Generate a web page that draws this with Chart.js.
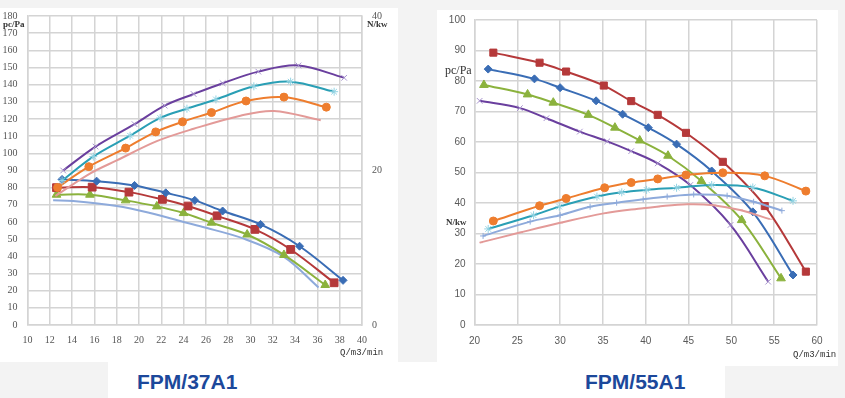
<!DOCTYPE html>
<html>
<head>
<meta charset="utf-8">
<script src="https://cdn.jsdelivr.net/npm/chart.js@4.4.1/dist/chart.umd.min.js"></script>
<style>
body { margin:0; width:845px; height:398px; background:#f3f3f3; position:relative; overflow:hidden; }
.box { position:absolute; background:#fff; }
.wrap { position:absolute; }
.lbl { position:absolute; color:#333; white-space:nowrap; line-height:1; }
.title { position:absolute; font-family:"Liberation Sans", Arial, sans-serif; font-weight:bold; font-size:21px; color:#1c489b; line-height:1; }
</style>
</head>
<body>
<div class="box" style="left:0;top:8px;width:398px;height:354px"></div>
<div class="box" style="left:437px;top:10px;width:401px;height:356px"></div>
<div class="box" style="left:108px;top:362px;width:617px;height:36px"></div>

<div class="wrap" style="left:0;top:0;width:400px;height:365px"><canvas id="chart37"></canvas></div>
<div class="wrap" style="left:420px;top:0;width:425px;height:365px"><canvas id="chart55"></canvas></div>

<div class="lbl" style="left:3px;top:19px;font:bold 9px 'Liberation Serif', serif;">pc/Pa</div>
<div class="lbl" style="left:367px;top:19px;font:bold 9px 'Liberation Serif', serif;">N/kw</div>
<div class="lbl" style="left:340px;top:348px;font:9px 'Liberation Mono', monospace;">Q/m3/min</div>
<div class="lbl" style="left:445px;top:63px;font:12px 'Liberation Serif', serif;">pc/Pa</div>
<div class="lbl" style="left:446px;top:217px;font:bold 9px 'Liberation Serif', serif;">N/kw</div>
<div class="lbl" style="left:793px;top:350px;font:9px 'Liberation Mono', monospace;">Q/m3/min</div>

<div class="title" style="left:137px;top:371px;">FPM/37A1</div>
<div class="title" style="left:585px;top:371px;">FPM/55A1</div>

<script>
// FPM/37A1 - pressure curves (pc/Pa, left axis)
const q37Blue = [13.1, 16.2, 19.6, 22.4, 25.0, 27.5, 30.9, 34.4, 38.3];
const p37Blue = [84.8, 83.8, 81.3, 77.0, 72.6, 66.4, 58.6, 45.9, 26.0];
const q37Red = [12.6, 15.8, 19.1, 22.1, 24.4, 27.0, 30.4, 33.6, 37.5];
const p37Red = [80.0, 80.3, 77.4, 73.2, 69.3, 63.6, 55.7, 44.0, 24.6];
const q37Green = [12.6, 15.6, 18.8, 21.6, 24.0, 26.5, 29.7, 33.0, 36.7];
const p37Green = [75.9, 75.9, 72.6, 69.1, 65.2, 59.6, 52.7, 40.8, 23.3];
const q37LightBlue = [12.3, 14.1, 18.0, 21.0, 24.0, 25.5, 29.4, 33.0, 36.1];
const p37LightBlue = [72.6, 72.2, 69.3, 65.2, 60.0, 57.5, 50.3, 39.7, 21.9];
// FPM/37A1 - power curves (N/kw, right axis)
const q37Purple = [13.2, 16.1, 19.6, 22.3, 24.9, 27.5, 30.7, 34.3, 38.4];
const n37Purple = [20.0, 23.1, 26.0, 28.4, 29.9, 31.3, 32.8, 33.6, 32.0];
const q37Teal = [13.1, 15.9, 19.2, 21.9, 24.3, 26.9, 30.3, 33.6, 37.5];
const n37Teal = [18.7, 21.8, 24.5, 26.8, 28.0, 29.2, 30.9, 31.5, 30.2];
const q37Orange = [12.7, 15.5, 18.8, 21.5, 23.9, 26.5, 29.6, 33.0, 36.8];
const n37Orange = [17.8, 20.5, 22.9, 25.0, 26.3, 27.5, 29.0, 29.5, 28.2];
const q37Pink = [12.5, 15.6, 18.0, 21.6, 24.9, 29.1, 32.1, 36.3];
const n37Pink = [16.7, 19.6, 21.3, 23.8, 25.4, 27.1, 27.7, 26.5];

// FPM/55A1 - pressure curves
const q55Red = [22.2, 27.6, 30.7, 35.1, 38.3, 41.4, 44.7, 49.0, 53.9, 58.7];
const p55Red = [89.3, 86.0, 83.1, 78.5, 73.4, 68.9, 63.0, 53.5, 39.0, 17.5];
const q55Blue = [21.6, 27.0, 30.0, 34.2, 37.3, 40.3, 43.6, 47.7, 52.5, 57.2];
const p55Blue = [83.9, 80.7, 77.8, 73.5, 69.1, 64.7, 59.3, 50.5, 37.1, 16.4];
const q55Green = [21.1, 26.2, 29.2, 33.3, 36.4, 39.3, 42.6, 46.5, 51.2, 55.8];
const p55Green = [78.7, 75.6, 72.9, 68.9, 64.7, 60.5, 55.5, 47.2, 34.4, 15.3];
const q55Purple = [20.6, 25.3, 28.4, 32.3, 35.5, 38.3, 41.4, 45.2, 49.9, 54.3];
const p55Purple = [73.5, 71.1, 67.8, 63.4, 60.2, 57.0, 53.0, 45.9, 32.8, 14.2];
// FPM/55A1 - power curves
const q55Orange = [22.2, 27.6, 30.7, 35.2, 38.3, 41.4, 44.7, 49.0, 53.9, 58.7];
const n55Orange = [34.1, 39.1, 41.5, 45.0, 46.7, 47.9, 49.2, 49.9, 48.9, 43.9];
const q55Teal = [21.6, 26.9, 29.9, 34.3, 37.2, 40.1, 43.6, 47.7, 52.5, 57.2];
const n55Teal = [31.5, 36.0, 38.8, 42.1, 43.5, 44.3, 45.0, 45.9, 45.1, 40.7];
const q55LightBlue = [21.0, 26.5, 30.0, 33.5, 36.6, 39.7, 42.5, 45.6, 49.5, 52.6, 55.9];
const n55LightBlue = [29.2, 33.9, 36.0, 38.8, 40.1, 41.2, 42.1, 42.8, 42.4, 40.4, 37.5];
const q55Pink = [20.6, 25.3, 30.0, 35.1, 39.7, 41.3, 44.8, 47.9, 51.0, 54.5];
const n55Pink = [27.0, 30.3, 33.5, 36.6, 38.3, 38.8, 39.6, 39.3, 37.7, 34.7];

const BLUE = '#3a6db5', RED = '#b5393a', GREEN = '#8bb23d', PURPLE = '#6a3f9e';
const TEAL = '#2a9fb5', ORANGE = '#ee7d2e', LIGHTBLUE = '#8eaadb', PINK = '#e39a98';
const GRID = '#d4d4d4';

function pts(xs, ys) {
    return xs.map((x, i) => ({ x: x, y: ys[i] }));
}

function line(xs, ys, color, style, radius, markColor, axis) {
    return {
        data: pts(xs, ys),
        yAxisID: axis || 'y',
        borderColor: color,
        backgroundColor: color,
        borderWidth: 2,
        pointStyle: style,
        pointRadius: radius,
        pointBackgroundColor: markColor || color,
        pointBorderColor: markColor || color,
        pointBorderWidth: 1,
        fill: false,
        tension: 0.35
    };
}

function fixWidth(w) { return function (scale) { scale.width = w; }; }
function fixHeight(h) { return function (scale) { scale.height = h; }; }

Chart.defaults.animation = false;

new Chart(document.getElementById('chart37'), {
    type: 'line',
    data: {
        datasets: [
            line(q37Purple, n37Purple, PURPLE, 'crossRot', 4, '#a996cf', 'y1'),
            line(q37Teal, n37Teal, TEAL, 'star', 4, '#93d3e3', 'y1'),
            line(q37Orange, n37Orange, ORANGE, 'circle', 4, ORANGE, 'y1'),
            line(q37Pink, n37Pink, PINK, 'dash', 0, PINK, 'y1'),
            line(q37Blue, p37Blue, BLUE, 'rectRot', 4),
            line(q37Red, p37Red, RED, 'rect', 5.5),
            line(q37Green, p37Green, GREEN, 'triangle', 5),
            line(q37LightBlue, p37LightBlue, LIGHTBLUE, 'cross', 0)
        ]
    },
    options: {
        responsive: true,
        maintainAspectRatio: false,
        layout: { padding: { top: 15 } },
        plugins: { legend: { display: false }, tooltip: { enabled: false } },
        scales: {
            x: {
                type: 'linear', min: 10, max: 40,
                ticks: { stepSize: 2, padding: 9, color: '#555', font: { family: 'Liberation Serif', size: 10 } },
                grid: { color: GRID, lineWidth: 1.5, drawTicks: false },
                border: { color: GRID, width: 1.5 },
                afterFit: fixHeight(40)
            },
            y: {
                min: 0, max: 180,
                ticks: { stepSize: 10, padding: 10, color: '#555', font: { family: 'Liberation Serif', size: 10 } },
                grid: { color: GRID, lineWidth: 1.5, drawTicks: false },
                border: { color: GRID, width: 1.5 },
                afterFit: fixWidth(27.5)
            },
            y1: {
                position: 'right', min: 0, max: 40,
                ticks: { stepSize: 20, padding: 10, color: '#555', font: { family: 'Liberation Serif', size: 10 } },
                grid: { display: false, drawTicks: false },
                border: { color: GRID, width: 1.5 },
                afterFit: fixWidth(38)
            }
        }
    }
});

new Chart(document.getElementById('chart55'), {
    type: 'line',
    data: {
        datasets: [
            line(q55Orange, n55Orange, ORANGE, 'circle', 4),
            line(q55Teal, n55Teal, TEAL, 'star', 4, '#93d3e3'),
            line(q55LightBlue, n55LightBlue, LIGHTBLUE, 'cross', 3),
            line(q55Pink, n55Pink, PINK, 'dash', 3),
            line(q55Purple, p55Purple, PURPLE, 'crossRot', 4, '#a996cf'),
            line(q55Green, p55Green, GREEN, 'triangle', 5),
            line(q55Blue, p55Blue, BLUE, 'rectRot', 4),
            line(q55Red, p55Red, RED, 'rect', 5)
        ]
    },
    options: {
        responsive: true,
        maintainAspectRatio: false,
        layout: { padding: { top: 20, right: 28 } },
        plugins: { legend: { display: false }, tooltip: { enabled: false } },
        scales: {
            x: {
                type: 'linear', min: 20, max: 60,
                ticks: { stepSize: 5, padding: 10, color: '#595959', font: { family: 'Liberation Sans', size: 10 } },
                grid: { color: GRID, lineWidth: 1.5, drawTicks: false },
                border: { color: GRID, width: 1.5 },
                afterFit: fixHeight(40)
            },
            y: {
                min: 0, max: 100,
                ticks: { stepSize: 10, padding: 9, color: '#595959', font: { family: 'Liberation Sans', size: 10 } },
                grid: { color: GRID, lineWidth: 1.5, drawTicks: false },
                border: { color: GRID, width: 1.5 },
                afterFit: fixWidth(54.5)
            }
        }
    }
});
</script>
</body>
</html>
